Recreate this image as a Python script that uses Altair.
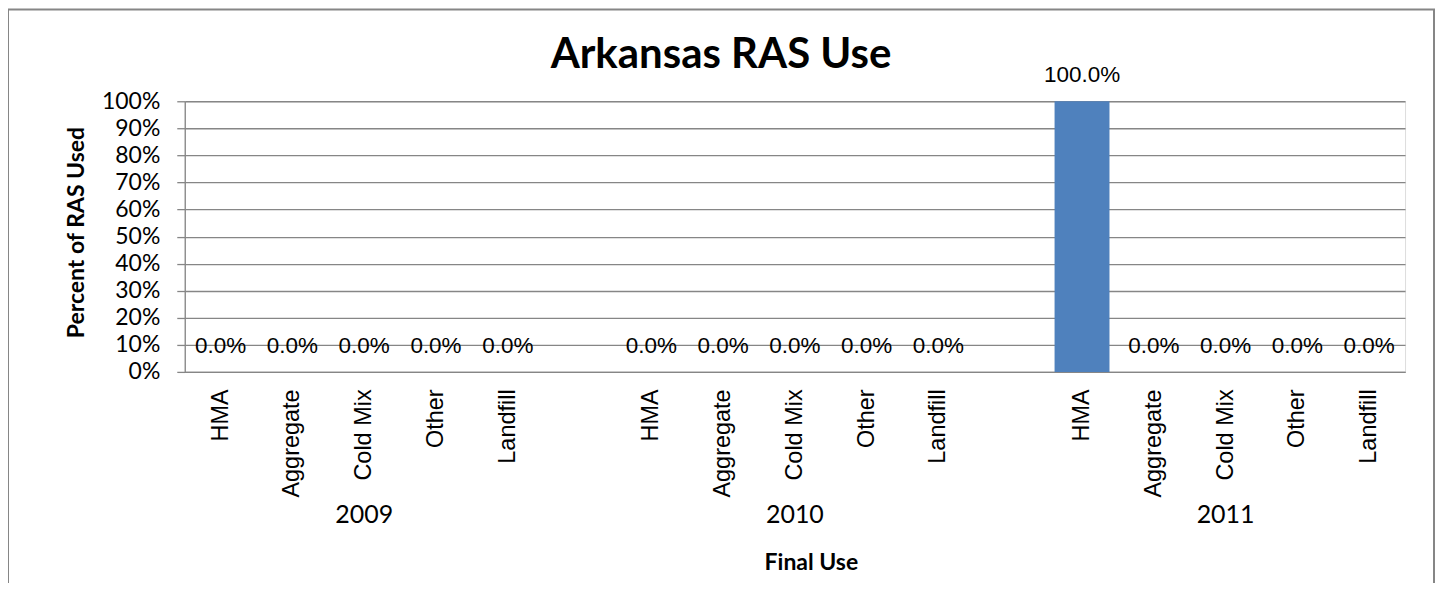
import altair as alt
import pandas as pd

# ---- data ----
years = ["2009", "2010", "2011"]
uses = ["HMA", "Aggregate", "Cold Mix", "Other", "Landfill"]
values_2009 = [0.0, 0.0, 0.0, 0.0, 0.0]
values_2010 = [0.0, 0.0, 0.0, 0.0, 0.0]
values_2011 = [1.0, 0.0, 0.0, 0.0, 0.0]
gap_keys = ["gap1:", "gap2:"]
y_ticks = [0, 0.1, 0.2, 0.3, 0.4, 0.5, 0.6, 0.7, 0.8, 0.9, 1.0]

series = {"2009": values_2009, "2010": values_2010, "2011": values_2011}

rows = []
for yr in years:
    for u, v in zip(uses, series[yr]):
        rows.append({"key": f"{yr}:{u}", "year": yr, "use": u, "value": v})
df = pd.DataFrame(rows)

domain = []
for i, yr in enumerate(years):
    domain += [f"{yr}:{u}" for u in uses]
    if i < len(gap_keys):
        domain.append(gap_keys[i])

year_df = pd.DataFrame({"year": years, "key": [f"{yr}:Cold Mix" for yr in years]})
frame_df = pd.DataFrame({"a": [0]})

GRID = "#868686"
CAL = "Lato"
ARIAL = "Liberation Sans"

x_enc = alt.X(
    "key:N",
    scale=alt.Scale(domain=domain, paddingInner=0.235, paddingOuter=0.1175),
    axis=alt.Axis(
        title="Final Use",
        labelExpr="substring(datum.value, 5)",
        labelAngle=270,
        labelFont=ARIAL,
        labelFontSize=23.5,
        labelColor="black",
        labelPadding=17,
        ticks=False,
        tickSize=0,
        domainColor=GRID,
        domainWidth=1.3,
        grid=False,
        titleFont=CAL,
        titleFontSize=23,
        titleFontWeight="bold",
        titleColor="black",
        titleX=627,
        titleY=198,
        titleAlign="center",
        titleBaseline="alphabetic",
    ),
)

y_enc = alt.Y(
    "value:Q",
    scale=alt.Scale(domain=[0, 1], nice=False),
    axis=alt.Axis(
        title="Percent of RAS Used",
        values=y_ticks,
        format=".0%",
        labelFont=CAL,
        labelFontSize=23,
        labelColor="black",
        labelPadding=17,
        tickSize=8,
        tickColor=GRID,
        tickWidth=1.3,
        domainColor=GRID,
        domainWidth=1.3,
        grid=True,
        gridColor=GRID,
        gridWidth=1.3,
        titleFont=CAL,
        titleFontSize=23,
        titleFontWeight="bold",
        titleColor="black",
        titleAngle=270,
        titleX=-108,
        titleY=131,
        titleAlign="center",
        titleBaseline="middle",
    ),
)

frame = alt.Chart(frame_df).mark_rect(fillOpacity=0, stroke=GRID, strokeWidth=2).encode(
    x=alt.value(-177), x2=alt.value(1251), y=alt.value(-92), y2=alt.value(520)
)

bars = alt.Chart(df).mark_bar(color="#4F81BD").encode(x=x_enc, y=y_enc)

labels = alt.Chart(df).mark_text(
    font=ARIAL, fontSize=22.5, color="black", baseline="alphabetic", dy=-19
).encode(x=x_enc, y=y_enc, text=alt.Text("value:Q", format=".1%"))

year_labels = alt.Chart(year_df).mark_text(
    font=CAL, fontSize=25, color="black", baseline="middle"
).encode(x=x_enc, y=alt.value(414), text="year:N")

chart = (
    alt.layer(frame, bars, labels, year_labels)
    .properties(
        width=1222,
        height=271,
        padding={"left": 177, "top": 93, "right": 30, "bottom": 211},
        autosize=alt.AutoSizeParams(type="none"),
        title=alt.TitleParams(
            text="Arkansas RAS Use",
            font=CAL,
            fontSize=42,
            fontWeight="bold",
            color="black",
            anchor="middle",
            frame="group",
            baseline="alphabetic",
            dx=-74,
            dy=116,
            offset=14,
        ),
    )
    .configure_view(stroke="transparent")
    .configure(background="white")
)

chart.save("out.html", embed_options={"renderer": "svg", "actions": False})
